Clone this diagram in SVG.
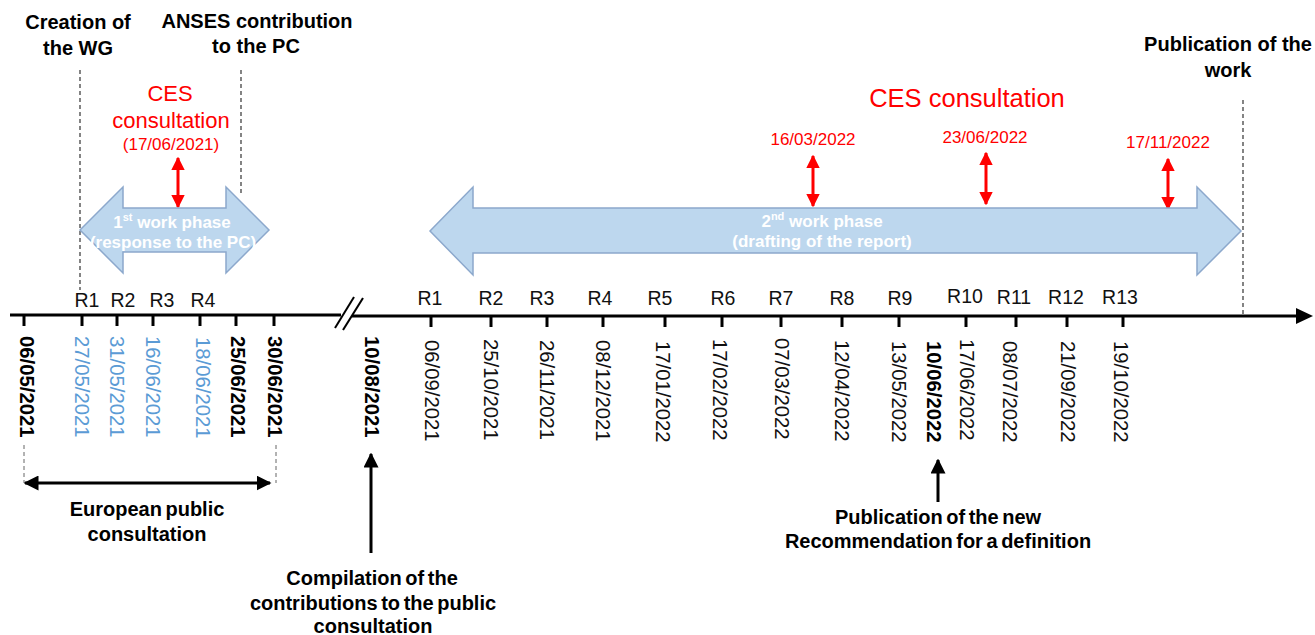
<svg xmlns="http://www.w3.org/2000/svg" width="1315" height="635" viewBox="0 0 1315 635">
<defs>
<style>
.lbl{font-family:"Liberation Sans",Arial,sans-serif;font-weight:bold;font-size:20px;fill:#000;text-anchor:middle}
.bl{word-spacing:-2px}
.r{font-family:"Liberation Sans",Arial,sans-serif;font-size:19.5px;fill:#111;text-anchor:middle}
.d{font-family:"Liberation Sans",Arial,sans-serif;font-size:20.3px;fill:#111}
.db{font-weight:bold;fill:#000}
.dblue{fill:#5B9BD5}
.red{font-family:"Liberation Sans",Arial,sans-serif;fill:#FF0000;text-anchor:middle}
.ph{font-family:"Liberation Sans",Arial,sans-serif;font-weight:bold;font-size:17px;fill:#FFFFFF;text-anchor:middle}
.big{fill:#BDD7EE;stroke:#8CA8CC;stroke-width:1.5}
.tl{stroke:#000;stroke-width:3;fill:none}
.tk{stroke:#000;stroke-width:3}
.dash{stroke:#333;stroke-width:1.2;stroke-dasharray:4 3;fill:none}
.dashl{stroke:#666;stroke-width:1;stroke-dasharray:4 3;fill:none}
.ra{stroke:#FF0000;stroke-width:3;fill:none}
.ba{stroke:#000;stroke-width:3;fill:none}
</style>
<marker id="rh" viewBox="0 0 10 10" refX="9" refY="5" markerWidth="4.5" markerHeight="4.5" orient="auto-start-reverse" markerUnits="strokeWidth"><path d="M0,0 L10,5 L0,10 Z" fill="#FF0000"/></marker>
<marker id="bh" viewBox="0 0 10 10" refX="9" refY="5" markerWidth="5" markerHeight="5" orient="auto-start-reverse" markerUnits="strokeWidth"><path d="M0,0 L10,5 L0,10 Z" fill="#000"/></marker>
</defs>
<rect width="1315" height="635" fill="#FFFFFF"/>

<g id="connectors">
<!-- timeline -->
<line class="tl" x1="10" y1="315" x2="341" y2="315"/>
<line class="tl" x1="352" y1="316" x2="1300" y2="316"/>
<polygon points="1296,308 1313,316 1296,324" fill="#000"/>
<line stroke="#000" stroke-width="2" x1="335" y1="328" x2="354" y2="297"/>
<line stroke="#000" stroke-width="2" x1="343" y1="330" x2="363" y2="298"/>
<!-- ticks -->
<g class="tk">
<line x1="24" y1="315" x2="24" y2="326"/>
<line x1="82" y1="315" x2="82" y2="326"/>
<line x1="117" y1="315" x2="117" y2="326"/>
<line x1="153" y1="315" x2="153" y2="326"/>
<line x1="200" y1="315" x2="200" y2="326"/>
<line x1="236" y1="315" x2="236" y2="326"/>
<line x1="274" y1="315" x2="274" y2="326"/>
<line x1="431" y1="316" x2="431" y2="327"/>
<line x1="491" y1="316" x2="491" y2="327"/>
<line x1="547" y1="316" x2="547" y2="327"/>
<line x1="603" y1="316" x2="603" y2="327"/>
<line x1="665" y1="316" x2="665" y2="327"/>
<line x1="722" y1="316" x2="722" y2="327"/>
<line x1="781" y1="316" x2="781" y2="327"/>
<line x1="842" y1="316" x2="842" y2="327"/>
<line x1="899" y1="316" x2="899" y2="327"/>
<line x1="966" y1="316" x2="966" y2="327"/>
<line x1="1016" y1="316" x2="1016" y2="327"/>
<line x1="1067" y1="316" x2="1067" y2="327"/>
<line x1="1123" y1="316" x2="1123" y2="327"/>
</g>
<!-- dashed guides -->
<line class="dash" x1="80" y1="70" x2="80" y2="290"/>
<line class="dash" x1="241" y1="70" x2="241" y2="193"/>
<line class="dash" x1="1243" y1="100" x2="1243" y2="316"/>
<line class="dashl" x1="24" y1="445" x2="24" y2="483"/>
<line class="dashl" x1="276" y1="445" x2="276" y2="483"/>
<!-- black arrows -->
<line class="ba" x1="25" y1="483" x2="270" y2="483" marker-start="url(#bh)" marker-end="url(#bh)"/>
<line class="ba" x1="371" y1="553" x2="371" y2="454" marker-end="url(#bh)"/>
<line class="ba" x1="938" y1="502" x2="938" y2="460" marker-end="url(#bh)"/>
<!-- red arrows -->
<line class="ra" x1="178" y1="158" x2="178" y2="207" marker-start="url(#rh)" marker-end="url(#rh)"/>
<line class="ra" x1="813" y1="156" x2="813" y2="206" marker-start="url(#rh)" marker-end="url(#rh)"/>
<line class="ra" x1="986" y1="153" x2="986" y2="204" marker-start="url(#rh)" marker-end="url(#rh)"/>
<line class="ra" x1="1168" y1="159" x2="1168" y2="209" marker-start="url(#rh)" marker-end="url(#rh)"/>
</g>

<g id="phase1">
<polygon class="big" points="80,230 123,187 123,208 226,208 226,187 269,230 226,273 226,252 123,252 123,273"/>
<text class="ph" x="172" y="228">1<tspan font-size="11" dy="-7">st</tspan><tspan dy="7"> work phase</tspan></text>
<text class="ph" x="173" y="248">(response to the PC)</text>
</g>

<g id="phase2">
<polygon class="big" points="430,231 473,187 473,208 1197,208 1197,187 1241,231 1197,275 1197,253 473,253 473,275"/>
<text class="ph" x="822" y="227">2<tspan font-size="11" dy="-7">nd</tspan><tspan dy="7"> work phase</tspan></text>
<text class="ph" x="822" y="247">(drafting of the report)</text>
</g>

<g id="top-labels">
<text class="lbl" x="78" y="29">Creation of</text>
<text class="lbl" x="78" y="55">the WG</text>
<text class="lbl" x="257" y="28">ANSES contribution</text>
<text class="lbl" x="256" y="53">to the PC</text>
<text class="lbl" x="1228" y="51">Publication of the</text>
<text class="lbl" x="1228" y="77">work</text>
</g>

<g id="ces1">
<text class="red" x="170" y="101" font-size="22">CES</text>
<text class="red" x="171" y="128" font-size="22">consultation</text>
<text class="red" x="171" y="150" font-size="17">(17/06/2021)</text>
</g>

<g id="ces2">
<text class="red" x="967" y="107" font-size="25.5">CES consultation</text>
<text class="red" x="813" y="145" font-size="17">16/03/2022</text>
<text class="red" x="985" y="143" font-size="17">23/06/2022</text>
<text class="red" x="1168" y="148" font-size="17">17/11/2022</text>
</g>

<g id="meetings">
<text class="r" x="87" y="307">R1</text>
<text class="r" x="123" y="307">R2</text>
<text class="r" x="162" y="307">R3</text>
<text class="r" x="203" y="307">R4</text>
<text class="r" x="430" y="305">R1</text>
<text class="r" x="491" y="305">R2</text>
<text class="r" x="542" y="305">R3</text>
<text class="r" x="600" y="305">R4</text>
<text class="r" x="660" y="305">R5</text>
<text class="r" x="723" y="305">R6</text>
<text class="r" x="781" y="305">R7</text>
<text class="r" x="842" y="305">R8</text>
<text class="r" x="900" y="305">R9</text>
<text class="r" x="965" y="303">R10</text>
<text class="r" x="1014" y="304">R11</text>
<text class="r" x="1066" y="304">R12</text>
<text class="r" x="1120" y="304">R13</text>
</g>

<g id="dates">
<text class="d db" transform="translate(20,336) rotate(90)">06/05/2021</text>
<text class="d dblue" transform="translate(75,336) rotate(90)">27/05/2021</text>
<text class="d dblue" transform="translate(110,336) rotate(90)">31/05/2021</text>
<text class="d dblue" transform="translate(146,336) rotate(90)">16/06/2021</text>
<text class="d dblue" transform="translate(196,337) rotate(90)">18/06/2021</text>
<text class="d db" transform="translate(231,336) rotate(90)">25/06/2021</text>
<text class="d db" transform="translate(268,336) rotate(90)">30/06/2021</text>
<text class="d db" transform="translate(365,336) rotate(90)">10/08/2021</text>
<text class="d" transform="translate(425,340) rotate(90)">06/09/2021</text>
<text class="d" transform="translate(484,339) rotate(90)">25/10/2021</text>
<text class="d" transform="translate(540,340) rotate(90)">26/11/2021</text>
<text class="d" transform="translate(596,340) rotate(90)">08/12/2021</text>
<text class="d" transform="translate(656,341) rotate(90)">17/01/2022</text>
<text class="d" transform="translate(713,339) rotate(90)">17/02/2022</text>
<text class="d" transform="translate(775,338) rotate(90)">07/03/2022</text>
<text class="d" transform="translate(835,340) rotate(90)">12/04/2022</text>
<text class="d" transform="translate(892,341) rotate(90)">13/05/2022</text>
<text class="d db" transform="translate(927,341) rotate(90)">10/06/2022</text>
<text class="d" transform="translate(960,339) rotate(90)">17/06/2022</text>
<text class="d" transform="translate(1003,341) rotate(90)">08/07/2022</text>
<text class="d" transform="translate(1061,341) rotate(90)">21/09/2022</text>
<text class="d" transform="translate(1114,341) rotate(90)">19/10/2022</text>
</g>

<g id="bottom-labels">
<text class="lbl bl" x="147" y="516">European public</text>
<text class="lbl bl" x="147" y="541">consultation</text>
<text class="lbl bl" x="372" y="585">Compilation of the</text>
<text class="lbl bl" x="373" y="610">contributions to the public</text>
<text class="lbl bl" x="373" y="633">consultation</text>
<text class="lbl bl" x="938" y="524">Publication of the new</text>
<text class="lbl bl" x="938" y="548">Recommendation for a definition</text>
</g>
</svg>
